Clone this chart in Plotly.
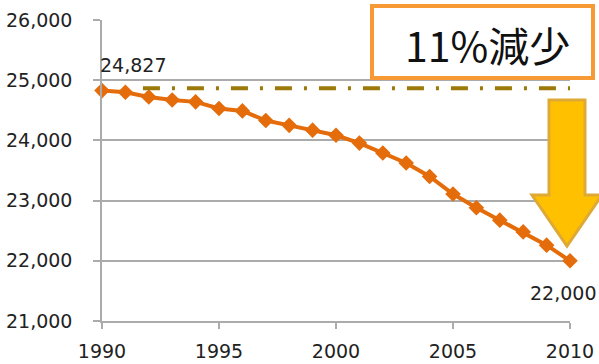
import plotly.graph_objects as go

# Population by year
years = list(range(1990, 2011))
population = [24827, 24800, 24720, 24670, 24640, 24530, 24490, 24330, 24250, 24170,
              24085, 23955, 23790, 23625, 23400, 23110, 22880, 22675, 22480, 22260, 22000]

y_ticks = [21000, 22000, 23000, 24000, 25000, 26000]
x_ticks = [1990, 1995, 2000, 2005, 2010]

start_label = "24,827"
end_label = "22,000"
callout_text = "11%減少"
baseline_value = 24865

W, H = 599, 364
M_L, M_R, M_T, M_B = 102, 29, 20, 43
PW, PH = W - M_L - M_R, H - M_T - M_B


def px(xp):
    return (xp - M_L) / PW


def py(yp):
    return (H - M_B - yp) / PH


GRID = "#ababab"
TXT = "#222222"
NUM_FONT = "DejaVu Sans"

fig = go.Figure()

fig.add_trace(go.Scatter(
    x=years, y=population, mode="lines+markers",
    line=dict(color="#e46c0a", width=4),
    marker=dict(symbol="diamond", size=12, color="#e46c0a"),
    cliponaxis=False, showlegend=False,
))

# dash-dot reference level
fig.add_shape(type="line", xref="x", yref="y",
              x0=1991.75, x1=2010, y0=baseline_value, y1=baseline_value,
              line=dict(color="#9c7a0a", width=4, dash="17px,12px,3px,12px"))

# downward arrow
arrow_pts = [(549, 100), (585, 100), (585, 195), (602, 195), (567, 246),
             (532, 195), (549, 195)]
path = "M " + " L ".join(f"{px(a):.5f},{py(b):.5f}" for a, b in arrow_pts) + " Z"
fig.add_shape(type="path", xref="paper", yref="paper", path=path,
              fillcolor="#ffc000", line=dict(color="#dfa935", width=3), layer="above")

# callout box
fig.add_shape(type="rect", xref="paper", yref="paper",
              x0=px(372), x1=px(593), y0=py(78), y1=py(6),
              fillcolor="white", line=dict(color="#f79a36", width=4), layer="above")

fig.add_annotation(xref="paper", yref="paper", x=px(487), y=py(44),
                   text=callout_text, showarrow=False,
                   font=dict(family="Noto Sans CJK JP", size=41, color="#111111"),
                   xanchor="center", yanchor="middle")

fig.add_annotation(x=years[0], y=population[0], text=start_label, showarrow=False,
                   xanchor="left", yanchor="middle", xshift=-4, yshift=26,
                   font=dict(family=NUM_FONT, size=19, color=TXT))
fig.add_annotation(x=years[-1], y=population[-1], text=end_label, showarrow=False,
                   xanchor="center", yanchor="middle", xshift=-7, yshift=-32,
                   font=dict(family=NUM_FONT, size=19, color=TXT))

fig.update_layout(
    width=W, height=H, autosize=False,
    margin=dict(l=M_L, r=M_R, t=M_T, b=M_B, pad=0, autoexpand=False),
    paper_bgcolor="white", plot_bgcolor="white",
    font=dict(family=NUM_FONT, size=19, color=TXT),
)
fig.update_xaxes(range=[1990, 2010], tickvals=x_ticks, showgrid=False,
                 showline=True, linecolor=GRID, linewidth=1.5,
                 ticks="outside", ticklen=6, tickcolor=GRID, tickwidth=1.5,
                 ticklabelstandoff=6,
                 zeroline=False, tickfont=dict(family=NUM_FONT, size=19, color=TXT))
fig.update_yaxes(range=[21000, 26000], tickvals=y_ticks, tickformat=",",
                 showgrid=True, gridcolor=GRID, gridwidth=1.5,
                 showline=True, linecolor=GRID, linewidth=1.5,
                 ticks="outside", ticklen=7, tickcolor=GRID, tickwidth=1.5,
                 ticklabelstandoff=17, zeroline=False,
                 tickfont=dict(family=NUM_FONT, size=19, color=TXT))

fig.write_html("out.html")
